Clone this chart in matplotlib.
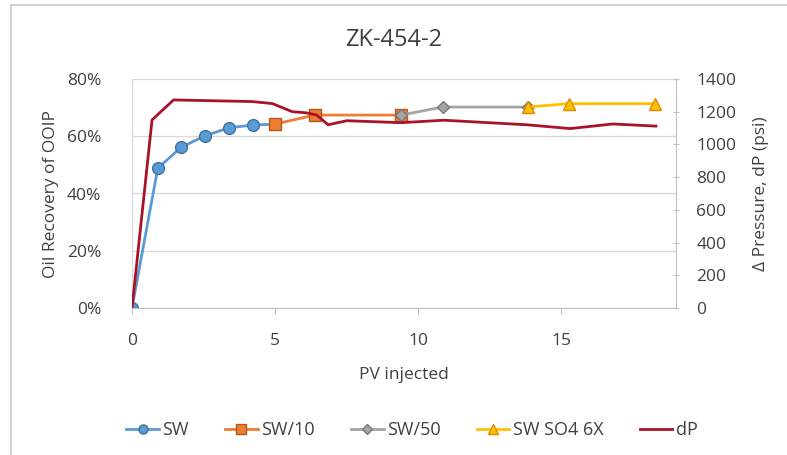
import matplotlib
matplotlib.use("Agg")
import matplotlib.pyplot as plt
from matplotlib.lines import Line2D
from matplotlib.ticker import FuncFormatter

plt.rcParams['font.family'] = ['Open Sans', 'DejaVu Sans']

# Oil recovery (% OOIP) vs pore volumes injected, per injected brine
sw_x = [0, 0.90, 1.71, 2.56, 3.40, 4.23, 4.98]
sw_y = [0, 48.8, 56.1, 60.2, 63.0, 63.9, 64.2]
sw10_x = [4.98, 6.38, 9.40]
sw10_y = [64.2, 67.4, 67.4]
sw50_x = [9.40, 10.85, 13.82]
sw50_y = [67.4, 70.2, 70.2]
so4_x = [13.82, 15.28, 18.27]
so4_y = [70.2, 71.4, 71.4]

# Differential pressure (psi)
dp_x = [0, 0.70, 1.45, 4.20, 4.90, 5.60, 6.10, 6.45, 6.85, 7.50, 9.40,
        10.90, 13.80, 15.30, 16.80, 18.30]
dp_y = [0, 1150, 1272, 1262, 1250, 1200, 1193, 1180, 1120, 1145, 1133,
        1148, 1120, 1097, 1125, 1112]

title = "ZK-454-2"
grid_col = "#D9D9D9"
axis_col = "#BFBFBF"
text_col = "#404040"

fig = plt.figure(figsize=(7.87, 4.55), dpi=100)
ax = fig.add_axes([132 / 787, 1 - 308 / 455, (676 - 132) / 787, (308 - 79) / 455])
ax2 = ax.twinx()

# chart frame
fig.add_artist(Line2D([11 / 787, 11 / 787], [0, 1 - 5 / 455], transform=fig.transFigure,
                      color="#C8C8C8", lw=1.2))
fig.add_artist(Line2D([11 / 787, 1], [1 - 5 / 455, 1 - 5 / 455], transform=fig.transFigure,
                      color="#C8C8C8", lw=1.2))

ax.set_xlim(0, 19)
ax.set_ylim(0, 80)
ax2.set_ylim(0, 1400)
ax.set_yticks([0, 20, 40, 60, 80])
ax.yaxis.set_major_formatter(FuncFormatter(lambda v, p: f"{v:.0f}%"))
ax.set_xticks([0, 5, 10, 15])
ax2.set_yticks(range(0, 1401, 200))

ax.grid(axis='y', color=grid_col, lw=1.0)
ax.set_axisbelow(True)

for a in (ax, ax2):
    for s in a.spines.values():
        s.set_visible(False)
ax.spines['bottom'].set_visible(True)
ax.spines['bottom'].set_color(axis_col)
ax.spines['left'].set_visible(True)
ax.spines['left'].set_color(grid_col)
ax2.spines['right'].set_visible(True)
ax2.spines['right'].set_color(axis_col)

ax.tick_params(axis='y', length=0, labelsize=12.5, labelcolor=text_col, pad=22)
ax.tick_params(axis='x', length=4, color=axis_col, labelsize=12.5, labelcolor=text_col, pad=14)
ax2.tick_params(axis='y', length=5, color=axis_col, labelsize=12.5, labelcolor=text_col,
                direction='inout', pad=12)

ax.set_xlabel("PV injected", fontsize=12.5, color=text_col, labelpad=13)
ax.set_ylabel("Oil Recovery of OOIP", fontsize=12.5, color=text_col, labelpad=6)
ax2.set_ylabel("\u0394 Pressure, dP (psi)", fontsize=12.5, color=text_col, labelpad=12)
fig.text(0.5, 1 - 40 / 455, title, ha='center', va='center', fontsize=17, color=text_col)

# recovery series beneath, pressure line on top
ax.plot(sw_x, sw_y, color="#5B9BD5", lw=2.0, marker='o', ms=8.5,
        mfc="#5B9BD5", mec="#41719C", mew=1.0)
ax.plot(sw10_x, sw10_y, color="#ED7D31", lw=2.0, marker='s', ms=8,
        mfc="#ED7D31", mec="#AE5A21", mew=1.0)
ax.plot(sw50_x, sw50_y, color="#A5A5A5", lw=2.0, marker='D', ms=6.5,
        mfc="#A5A5A5", mec="#787878", mew=1.0)
ax.plot(so4_x, so4_y, color="#FFC000", lw=2.0, marker='^', ms=9,
        mfc="#FFC000", mec="#E08A00", mew=1.0)
ax2.plot(dp_x, dp_y, color="#A8132A", lw=2.0)

# legend entries with smaller markers
handles = [
    Line2D([], [], color="#5B9BD5", lw=2, marker='o', ms=6.5, mfc="#5B9BD5", mec="#41719C"),
    Line2D([], [], color="#ED7D31", lw=2, marker='s', ms=6.5, mfc="#ED7D31", mec="#AE5A21"),
    Line2D([], [], color="#A5A5A5", lw=2, marker='D', ms=5.5, mfc="#A5A5A5", mec="#787878"),
    Line2D([], [], color="#FFC000", lw=2, marker='^', ms=7, mfc="#FFC000", mec="#E08A00"),
    Line2D([], [], color="#A8132A", lw=2),
]
labels = ["SW", "SW/10", "SW/50", "SW SO4 6X", "dP"]
fig.legend(handles=handles, labels=labels, loc='center',
           bbox_to_anchor=(412 / 787, 1 - 430 / 455), ncol=5, frameon=False,
           fontsize=13, labelcolor=text_col, handlelength=1.8, handletextpad=0.2,
           columnspacing=2.0)

fig.savefig("out.png", dpi=100, facecolor="white")
